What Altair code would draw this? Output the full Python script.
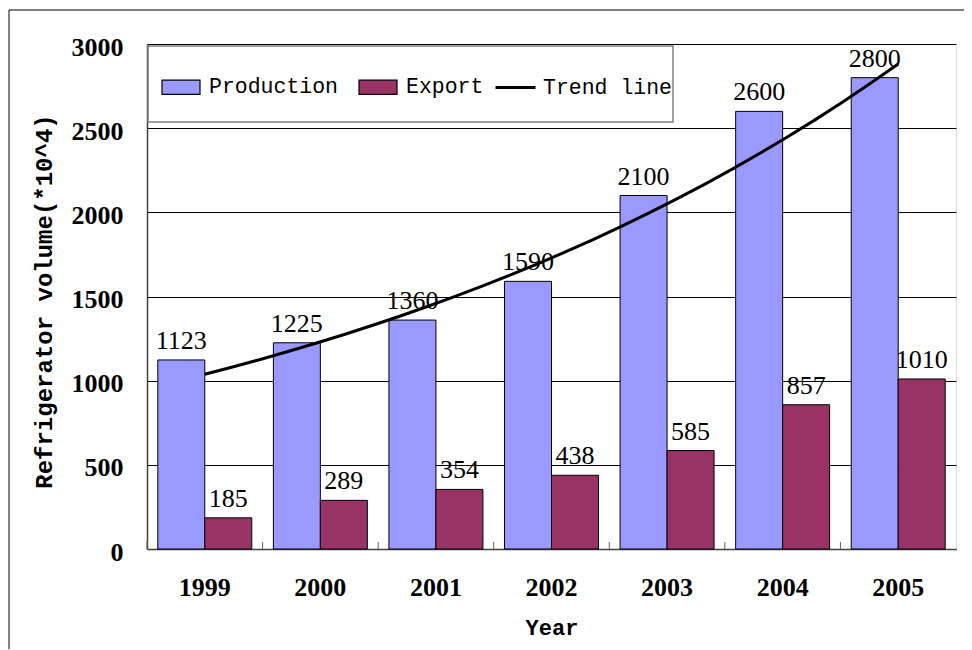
import altair as alt
import pandas as pd

years = ["1999", "2000", "2001", "2002", "2003", "2004", "2005"]
production = [1123, 1225, 1360, 1590, 2100, 2600, 2800]
export = [185, 289, 354, 438, 585, 857, 1010]
series_names = ["Production", "Export"]
series_colors = ["#9999FF", "#993366"]
y_ticks = [0, 500, 1000, 1500, 2000, 2500, 3000]

rows = []
for i, yr in enumerate(years):
    rows.append({"year": yr, "series": "Production", "value": production[i]})
    rows.append({"year": yr, "series": "Export", "value": export[i]})
df = pd.DataFrame(rows)
years_df = pd.DataFrame({"year": years})
one_row = pd.DataFrame({"k": [0]})

W, H = 809, 505
SERIF = "Liberation Serif"
MONO = "Liberation Mono"

y_enc = alt.Y("value:Q", scale=alt.Scale(domain=[0, 3000], nice=False),
              axis=alt.Axis(values=y_ticks, format="d", title="Refrigerator volume(*10^4)",
                            grid=True, gridColor="black", gridWidth=1,
                            ticks=False, tickSize=0, labelPadding=24,
                            labelFont=SERIF, labelFontSize=26, labelFontWeight="bold",
                            labelColor="black", labelBaseline="alphabetic", labelOffset=11,
                            domainColor="#404040", domainWidth=1.5,
                            titleFont=MONO, titleFontSize=24, titleFontWeight="bold",
                            titleColor="black", titleAngle=270, titleX=-103, titleY=257,
                            titleAlign="center", titleBaseline="middle"))
y_plain = alt.Y("value:Q", scale=alt.Scale(domain=[0, 3000], nice=False))

x_band = alt.X("year:N", sort=years, scale=alt.Scale(paddingInner=0, paddingOuter=0),
               axis=alt.Axis(title="Year", labelAngle=0, ticks=False, tickSize=0,
                             labelFont=SERIF, labelFontSize=26, labelFontWeight="bold",
                             labelColor="black", labelBaseline="alphabetic", labelPadding=46,
                             domainColor="#404040", domainWidth=1.5, grid=False,
                             titleFont=MONO, titleFontSize=22, titleFontWeight="bold",
                             titleColor="black", titleY=85, titleBaseline="alphabetic"))
x_band_noaxis = alt.X("year:N", sort=years, scale=alt.Scale(paddingInner=0, paddingOuter=0), axis=None)
x_off = alt.XOffset("series:N", sort=series_names,
                    scale=alt.Scale(paddingOuter=0.23, paddingInner=0))

bars = alt.Chart(df).mark_bar(stroke="black", strokeWidth=1).encode(
    x=x_band,
    xOffset=x_off,
    y=y_enc,
    color=alt.Color("series:N", sort=series_names,
                    scale=alt.Scale(domain=series_names, range=series_colors),
                    legend=alt.Legend(title=None, orient="none", legendX=14, legendY=23,
                                      direction="horizontal", zindex=1,
                                      symbolType="M-1,-0.37H1V0.37H-1Z", symbolSize=1444,
                                      symbolStrokeColor="black", symbolStrokeWidth=1.2,
                                      labelFont=MONO, labelFontSize=21.5, labelColor="black",
                                      labelOffset=8, columnPadding=17, padding=0)),
)

labels = alt.Chart(df).mark_text(font=SERIF, fontSize=26, baseline="alphabetic",
                                 align="center", dy=-11, color="black").encode(
    x=x_band_noaxis,
    xOffset=x_off,
    y=y_plain,
    text="value:Q",
)

ticks = alt.Chart(years_df).mark_rule(color="#606060", strokeWidth=1).encode(
    x=alt.X("year:N", sort=years, bandPosition=0,
            scale=alt.Scale(paddingInner=0, paddingOuter=0), axis=None),
    y=alt.value(H),
    y2=alt.value(H - 7),
)

trend = alt.Chart(df).transform_filter(
    alt.datum.series == "Production"
).transform_calculate(
    yr="toNumber(datum.year)"
).transform_regression(
    "yr", "value", method="exp", extent=[1999, 2005]
).transform_calculate(
    trend="'Trend line'"
).mark_line(strokeWidth=3).encode(
    x=alt.X("yr:Q", scale=alt.Scale(domain=[1998.5, 2005.5], nice=False, zero=False), axis=None),
    y=y_plain,
    stroke=alt.Stroke("trend:N", scale=alt.Scale(domain=["Trend line"], range=["black"]),
                      legend=alt.Legend(title=None, orient="none", legendX=347, legendY=22,
                                        zindex=1, symbolType="stroke", symbolSize=1600,
                                        symbolStrokeWidth=3, labelFont=MONO, labelFontSize=21.5,
                                        labelColor="black", labelOffset=6, padding=0)),
)

legend_box = alt.Chart(one_row).mark_rect(fillOpacity=0, stroke="#808080", strokeWidth=1.5).encode(
    x=alt.value(1), x2=alt.value(526), y=alt.value(2), y2=alt.value(78)
)

frame = alt.Chart(one_row).mark_rect(fillOpacity=0, stroke="black", strokeWidth=1).encode(
    x=alt.value(-138), x2=alt.value(2000), y=alt.value(-34), y2=alt.value(2000)
)

chart = alt.layer(bars, labels, ticks, trend, legend_box, frame).resolve_scale(
    x="independent"
).properties(
    width=W, height=H,
    autosize=alt.AutoSizeParams(type="none"),
    padding={"left": 139, "top": 36, "right": 8, "bottom": 100},
).configure_view(stroke="#808080", strokeWidth=1.5).configure(background="white")

chart.save("out.html", embed_options={"renderer": "svg", "actions": False})
